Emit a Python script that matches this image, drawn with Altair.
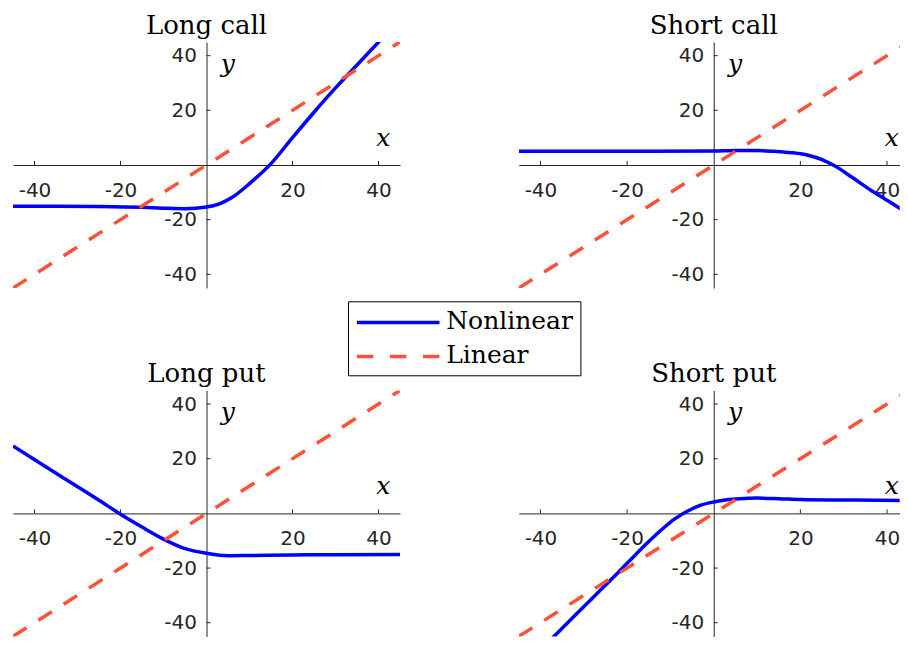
import altair as alt
import pandas as pd

# ---------------- data ----------------
panel_titles = ["Long call", "Short call", "Long put", "Short put"]
series_names = ["Nonlinear", "Linear"]
tick_values = [-40, -20, 20, 40]

long_call_x = [-45, -35, -25, -15, -10, -5, 0, 3, 6, 10, 15, 20, 25, 30, 35, 42]
long_call_y = [-15.1, -15.1, -15.2, -15.5, -15.8, -16.0, -15.4, -14.2, -11.8, -6.8, 0.5, 10.0, 19.3, 28.2, 36.6, 48.3]

short_call_x = [-45, -30, -15, 0, 5, 10, 14, 18, 22, 25, 28, 32, 37, 41, 46]
short_call_y = [5.0, 5.0, 5.0, 5.1, 5.3, 5.3, 5.0, 4.5, 3.5, 2.0, -0.4, -4.6, -10.0, -13.9, -18.8]

long_put_x = [-45, -35, -25, -20, -15, -10, -5, 0, 5, 10, 20, 30, 45]
long_put_y = [24.7, 14.7, 4.8, -0.3, -5.0, -9.4, -12.9, -14.6, -15.5, -15.4, -15.2, -15.1, -15.0]

short_put_x = [-37.5, -32, -27, -22, -18, -15, -12, -9, -6, -3, 0, 3, 6, 10, 15, 20, 30, 45]
short_put_y = [-46.0, -37.3, -29.4, -21.5, -15.0, -10.3, -5.9, -2.0, 0.9, 3.0, 4.2, 5.0, 5.4, 5.6, 5.4, 5.1, 4.9, 4.7]

linear_x = [-45, 45]
linear_y = [-45, 45]

# ---------------- styling / layout ----------------
BLUE = "#0000FF"
RED = "#FF5038"
AXIS_COLOR = "#262626"
SERIF = "DejaVu Serif"
SANS = "DejaVu Sans"

LIMIT = 45
H = 246
W_LEFT, XMAX_LEFT = 387, 45
W_RIGHT, XMAX_RIGHT = 380.9, 42.93   # right-hand panels are cut at the window edge
COL_GAP = 118.8
ROW_GAP = 102.4
TITLE_GAP_PX = 8.2
TITLE_SIZE = 26
TICK_LEN_PX = 4

# top-left corner of the drawing relative to the top-left plot area (pixels)
ANCHOR = (-4.8, -33.2)

# legend placement (pixels, relative to the top-left plot area)
LEG_BOX = (335.5, 567.9, 259.8, 333.8)
LEG_LINE_X = (343.9, 426.5)
LEG_ROW_Y = (280.5, 314.5)
LEG_TEXT_X = 433.2
LEG_TEXT_BASE = (287.1, 320.5)


def build_panel(title, xs, ys, width, xmax, with_legend):
    xsc = alt.Scale(domain=[-LIMIT, xmax], nice=False, zero=False)
    ysc = alt.Scale(domain=[-LIMIT, LIMIT], nice=False, zero=False)
    px_per_x = width / (xmax + LIMIT)
    px_per_y = H / (2 * LIMIT)
    x_zero = LIMIT * px_per_x
    common = dict(values=tick_values, ticks=False, tickSize=0, grid=False,
                  domainColor=AXIS_COLOR, domainWidth=1, labelColor=AXIS_COLOR,
                  labelFont=SANS, labelFontSize=20, labelFlush=False,
                  labelOverlap=False, labelExpr="'' + datum.value", title=None)
    xaxis = alt.Axis(orient="bottom", offset=-H / 2, labelPadding=25,
                     labelBaseline="middle", **common)
    yaxis = alt.Axis(orient="left", offset=-x_zero, labelPadding=10, **common)

    def X(f="x"):
        return alt.X(f"{f}:Q", scale=xsc, axis=xaxis)

    def Y(f="y"):
        return alt.Y(f"{f}:Q", scale=ysc, axis=yaxis)

    nl = pd.DataFrame({"x": xs, "y": ys})
    lin = pd.DataFrame({"x": linear_x, "y": linear_y})

    blue = alt.Chart(nl).mark_line(color=BLUE, strokeWidth=3.5, clip=True,
                                   interpolate="monotone").encode(x=X(), y=Y())
    red = alt.Chart(lin).mark_line(color=RED, strokeWidth=3.5, clip=True,
                                   strokeDash=[16, 14]).encode(x=X(), y=Y())

    tx = pd.DataFrame({"x": tick_values, "y": [0] * 4,
                       "y2": [TICK_LEN_PX / px_per_y] * 4})
    ty = pd.DataFrame({"y": tick_values, "x": [0] * 4,
                       "x2": [TICK_LEN_PX / px_per_x] * 4})
    xticks = alt.Chart(tx).mark_rule(color=AXIS_COLOR, strokeWidth=1).encode(
        x=X(), y=Y(), y2="y2:Q")
    yticks = alt.Chart(ty).mark_rule(color=AXIS_COLOR, strokeWidth=1).encode(
        x=X(), x2="x2:Q", y=Y())

    title_df = pd.DataFrame({"x": [0], "y": [LIMIT + TITLE_GAP_PX / px_per_y], "t": [title]})
    title_mark = alt.Chart(title_df).mark_text(
        font=SERIF, fontSize=TITLE_SIZE, align="center", baseline="alphabetic",
        color="black").encode(x=X(), y=Y(), text="t:N")

    xl_df = pd.DataFrame({"x": [41.1], "y": [7.0], "t": ["x"]})
    yl_df = pd.DataFrame({"x": [4.95], "y": [34.0], "t": ["y"]})
    xlab = alt.Chart(xl_df).mark_text(font=SERIF, fontStyle="italic", fontSize=25,
                                      align="center", baseline="alphabetic",
                                      color="black", clip=True).encode(x=X(), y=Y(), text="t:N")
    ylab = alt.Chart(yl_df).mark_text(font=SERIF, fontStyle="italic", fontSize=25,
                                      align="center", baseline="alphabetic",
                                      color="black").encode(x=X(), y=Y(), text="t:N")

    layers = [blue, red, xticks, yticks, title_mark, xlab, ylab]

    if with_legend:
        one = alt.Data(values=[{"k": 0}])
        anchor = alt.Chart(one).mark_rect(opacity=0).encode(
            x=alt.value(ANCHOR[0]), x2=alt.value(ANCHOR[0] + 1),
            y=alt.value(ANCHOR[1]), y2=alt.value(ANCHOR[1] + 1))
        box = alt.Chart(one).mark_rect(fill="white", stroke="black", strokeWidth=1).encode(
            x=alt.value(LEG_BOX[0]), x2=alt.value(LEG_BOX[1]),
            y=alt.value(LEG_BOX[2]), y2=alt.value(LEG_BOX[3]))
        lb = alt.Chart(one).mark_rule(color=BLUE, strokeWidth=3.5).encode(
            x=alt.value(LEG_LINE_X[0]), x2=alt.value(LEG_LINE_X[1]), y=alt.value(LEG_ROW_Y[0]))
        lr = alt.Chart(one).mark_rule(color=RED, strokeWidth=3.5, strokeDash=[16.5, 16.5]).encode(
            x=alt.value(LEG_LINE_X[0]), x2=alt.value(LEG_LINE_X[1]), y=alt.value(LEG_ROW_Y[1]))
        t1 = alt.Chart(one).mark_text(text=series_names[0], font=SERIF, fontSize=25,
                                      align="left", baseline="alphabetic", color="black").encode(
            x=alt.value(LEG_TEXT_X), y=alt.value(LEG_TEXT_BASE[0]))
        t2 = alt.Chart(one).mark_text(text=series_names[1], font=SERIF, fontSize=25,
                                      align="left", baseline="alphabetic", color="black").encode(
            x=alt.value(LEG_TEXT_X), y=alt.value(LEG_TEXT_BASE[1]))
        layers += [anchor, box, lb, lr, t1, t2]

    return alt.layer(*layers).properties(width=width, height=H)


p1 = build_panel(panel_titles[0], long_call_x, long_call_y, W_LEFT, XMAX_LEFT, True)
p2 = build_panel(panel_titles[1], short_call_x, short_call_y, W_RIGHT, XMAX_RIGHT, False)
p3 = build_panel(panel_titles[2], long_put_x, long_put_y, W_LEFT, XMAX_LEFT, False)
p4 = build_panel(panel_titles[3], short_put_x, short_put_y, W_RIGHT, XMAX_RIGHT, False)

chart = alt.concat(p1, p2, p3, p4, columns=2,
                   spacing={"row": ROW_GAP, "column": COL_GAP},
                   bounds="flush").properties(
    padding={"left": 0, "top": 0, "right": 0, "bottom": 0},
    background="white",
).configure_view(stroke=None)

chart.save("out.html", embed_options={"renderer": "svg", "actions": False})
